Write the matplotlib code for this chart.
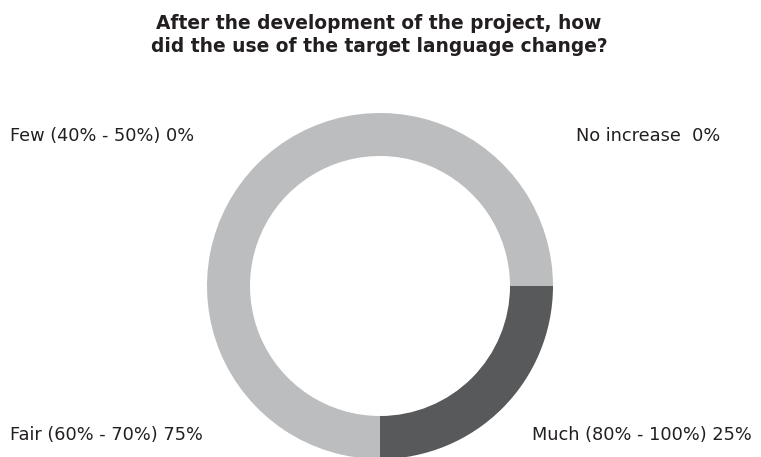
import matplotlib.pyplot as plt

# data
categories = ['Much (80% - 100%)', 'Fair (60% - 70%)', 'Few (40% - 50%)', 'No increase ']
values = [25, 75, 0, 0]
colors = ['#58595b', '#bcbdbf', '#bcbdbf', '#bcbdbf']
title = 'After the development of the project, how\ndid the use of the target language change?'

plt.rcParams['font.family'] = ['DejaVu Sans']

W, H = 761, 457
fig = plt.figure(figsize=(W / 100, H / 100), dpi=100)
ax = fig.add_axes([0, 0, 1, 1])

ax.pie(values, colors=colors, startangle=0, counterclock=False,
       center=(380, -286), radius=173,
       wedgeprops=dict(width=43, linewidth=0))
ax.set_xlim(0, W)
ax.set_ylim(-H, 0)
ax.set_aspect('equal')
ax.axis('off')

# label positions (pixels): (x, y, ha)
label_pos = {
    'Few (40% - 50%)': (10, 136, 'left'),
    'No increase ': (720, 136, 'right'),
    'Fair (60% - 70%)': (10, 435, 'left'),
    'Much (80% - 100%)': (752, 435, 'right'),
}
for cat, v in zip(categories, values):
    x, y, ha = label_pos[cat]
    ax.text(x, -y, f'{cat} {v}%', ha=ha, va='center', fontsize=12.8, color='#231f20')

ax.text(379, -35, title, ha='center', va='center', fontsize=13.4,
        fontweight='bold', color='#231f20', linespacing=1.3)

fig.savefig('out.png', dpi=100)
